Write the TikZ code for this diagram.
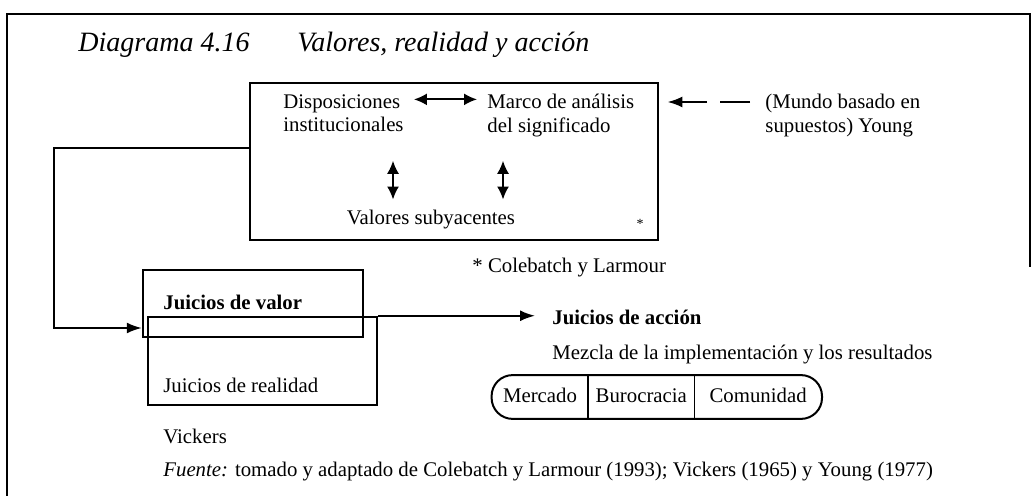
\documentclass[tikz,border=0pt]{standalone}
\usepackage{fontspec}
\setmainfont{Liberation Serif}
\usetikzlibrary{positioning, arrows.meta, calc}

\begin{document}
\begin{tikzpicture}[x=0.5pt, y=-0.5pt,
          txt/.style={font=\fontsize{10.4}{11.8}\selectfont, inner sep=0pt, align=left},
          bold/.style={txt, font=\fontsize{10.4}{11.8}\selectfont\bfseries},
          ttl/.style={font=\fontsize{14}{16}\selectfont\itshape, inner sep=0pt, anchor=base west},
          bx/.style={draw, line width=1.25pt, inner sep=0pt},
          cell/.style={txt, minimum height=21.5pt, text height=7pt, text depth=2pt},
          dbl/.style={{Latex[length=6.5pt,width=6pt]}-{Latex[length=6.5pt,width=6pt]}, line width=0.9pt},
          arr/.style={-{Latex[length=7.5pt,width=5.5pt]}, line width=1pt}]
        \useasboundingbox (0,0) rectangle (1032,496);
        \draw[line width=1.1pt] (7,496) -- (7,14) -- (1030,14) -- (1030,267);
        \node[ttl] (diag) at (78,52) {Diagrama 4.16};
        \node[ttl] (tit) at (297,52) {Valores, realidad y acción};
        \node[bx, minimum width=204pt, minimum height=78.5pt] (marco) at (454,161.5) {};
        \node[txt, anchor=north west] (disp) at (283,94) {Disposiciones\\institucionales};
        \node[txt, anchor=north west] (sig) at (487,94) {Marco de análisis\\del significado};
        \node[txt] (val) at (431,220) {Valores subyacentes};
        \node[txt, anchor=north, font=\fontsize{7}{8}\selectfont] (ast) at (640,219) {*};
        \node[txt, anchor=west] (cole) at (472,268) {* Colebatch y Larmour};
        \node[txt, anchor=north west] (mundo) at (765,94) {(Mundo basado en\\supuestos) Young};
        \coordinate (yg) at (750,102);
        \draw[dbl, shorten <=5pt, shorten >=5pt] ([yshift=6.9pt]disp.east) -- ([yshift=6.9pt]disp.east -| sig.west);
        \draw[dbl, shorten <=5.3pt, shorten >=14.2pt] ([xshift=-19pt]val.north) -- ([xshift=-19pt]val.north |- disp.south);
        \draw[dbl, shorten <=5.3pt, shorten >=14.2pt] ([xshift=36pt]val.north) -- ([xshift=36pt]val.north |- disp.south);
        \draw[arr, line width=1.3pt, dash pattern=on 15pt off 6.5pt on 60pt, shorten >=4pt] (yg) -- (yg -| marco.east);
        \node[bx, minimum width=114.5pt, minimum height=44pt] (real) at (262.5,361) {};
        \node[bx, minimum width=110pt, minimum height=33.5pt] (valor) at (253,303.5) {};
        \node[bold, anchor=west] (jv) at (163,302) {Juicios de valor};
        \node[txt, anchor=west] (jr) at (163,385) {Juicios de realidad};
        \node[txt, anchor=west] (vick) at (163,436) {Vickers};
        \draw[arr] ([yshift=6.75pt]marco.west) -- ++(-195,0) |- ([yshift=-12.25pt]valor.west);
        \node[bold, anchor=west] (acc) at (552,317) {Juicios de acción};
        \draw[arr, shorten >=8.5pt] (real.north east) -- (real.north east -| acc.west);
        \node[txt, anchor=west] (mez) at (552,355) {Mezcla de la implementación y los resultados};
        \node[cell, minimum width=48pt] (merc) at (540,397) {Mercado};
        \node[cell, minimum width=52.5pt, right=0pt of merc] (buro) {Burocracia};
        \node[cell, minimum width=63.5pt, right=0pt of buro] (comu) {Comunidad};
        \draw[line width=1pt, rounded corners=10.5pt] (merc.north west) rectangle (comu.south east);
        \draw[line width=1pt] (buro.north west) -- (buro.south west);
        \draw[line width=0.6pt] (comu.north west) -- (comu.south west);
        \node[txt, anchor=west] (fte) at (163,472) {\textit{Fuente:} tomado y adaptado de Colebatch y Larmour (1993); Vickers (1965) y Young (1977)};
      \end{tikzpicture}
\end{document}
